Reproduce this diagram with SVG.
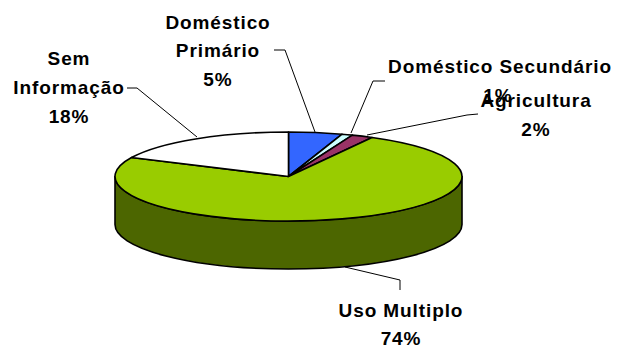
<svg xmlns="http://www.w3.org/2000/svg" width="617" height="349" viewBox="0 0 617 349">
<style>
.lbl{font-family:"Liberation Sans",Arial,sans-serif;font-weight:bold;font-size:19px;letter-spacing:0.9px;fill:#000;text-anchor:middle}
.edge{stroke:#000;stroke-width:1.6;stroke-linejoin:round}
.lead{fill:none;stroke:#000;stroke-width:1}
</style>
<rect width="617" height="349" fill="#fff"/>
<g id="pie">
<path class="edge" fill="#4C6600" d="M462,176.5 A173.5,44.5 0 0 1 115,176.5 L115,224.5 A173.5,44.5 0 0 0 462,224.5 Z"/>
<path id="slice-domestico-primario" class="edge" fill="#3366FF" d="M288.5,176.5 L288.5,132 A173.5,44.5 0 0 1 342.11,134.18 Z"/>
<path id="slice-domestico-secundario" class="edge" fill="#CCFFFF" d="M288.5,176.5 L342.11,134.18 A173.5,44.5 0 0 1 352.37,135.12 Z"/>
<path id="slice-agricultura" class="edge" fill="#993366" d="M288.5,176.5 L352.37,135.12 A173.5,44.5 0 0 1 372.09,137.5 Z"/>
<path id="slice-uso-multiplo" class="edge" fill="#99CC00" d="M288.5,176.5 L372.09,137.5 A173.5,44.5 0 1 1 131.52,157.55 Z"/>
<path id="slice-sem-informacao" class="edge" fill="#FFFFFF" d="M288.5,176.5 L131.52,157.55 A173.5,44.5 0 0 1 288.5,132 Z"/>
</g>
<g id="connectors">
<polyline class="lead" points="274,50 285,50 315,132"/>
<polyline class="lead" points="385,81 373,81 351,133"/>
<polyline class="lead" points="478,114 467,115 367,135"/>
<polyline class="lead" points="127,88 137,88 197,137"/>
<polyline class="lead" points="345,267 400,280 400,290"/>
</g>
<g id="label-domestico-primario">
<text class="lbl" x="218" y="29">Doméstico</text>
<text class="lbl" x="218" y="57">Primário</text>
<text class="lbl" x="218" y="86">5%</text>
</g>
<g id="label-domestico-secundario">
<text class="lbl" x="500" y="73">Doméstico Secundário</text>
<text class="lbl" x="498" y="102">1%</text>
</g>
<g id="label-agricultura">
<text class="lbl" x="536" y="107">Agricultura</text>
<text class="lbl" x="536" y="136">2%</text>
</g>
<g id="label-sem-informacao">
<text class="lbl" x="69" y="65">Sem</text>
<text class="lbl" x="69" y="94">Informação</text>
<text class="lbl" x="69" y="123">18%</text>
</g>
<g id="label-uso-multiplo">
<text class="lbl" x="401" y="317">Uso Multiplo</text>
<text class="lbl" x="401" y="345">74%</text>
</g>
</svg>
